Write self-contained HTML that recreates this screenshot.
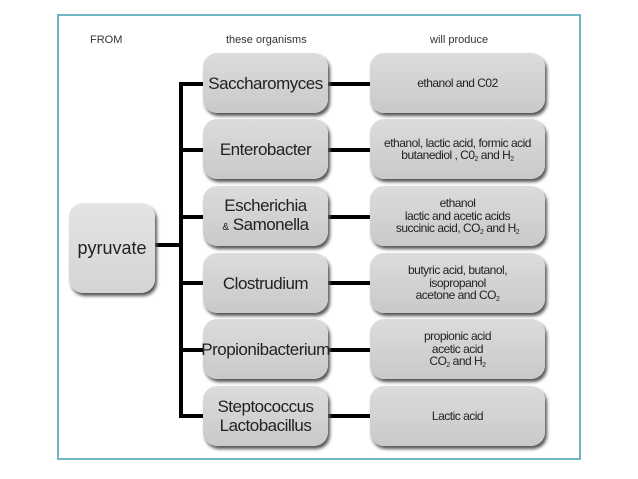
<!DOCTYPE html>
<html><head><style>
body{margin:0;width:638px;height:479px;background:#fff;position:relative;font-family:"Liberation Sans Narrow","Liberation Sans",sans-serif;overflow:hidden}
.frame{position:absolute;left:57px;top:14px;width:520px;height:442px;border:2px solid #72b6c6}
.b{position:absolute;background:linear-gradient(#dcdcdc,#c9c9c9);border-radius:14px;box-shadow:2px 3px 3px #555;display:flex;align-items:center;justify-content:center;text-align:center;color:#222}
.b>div{white-space:nowrap}
.o{left:203px;width:125px;height:60px;font-size:17px;line-height:19px;letter-spacing:-0.5px}
.p{left:370px;width:175px;height:60px;font-size:12px;line-height:12.5px;letter-spacing:-0.5px}
.h{position:absolute;font-size:11px;color:#333;top:34px}
.l{position:absolute;background:#000}
sub{font-size:7px;vertical-align:-2px;line-height:0}
</style></head><body>
<div class="frame"></div>
<div class="h" style="left:90px">FROM</div>
<div class="h" style="left:226px">these organisms</div>
<div class="h" style="left:430px">will produce</div>
<div class="l" style="left:179px;top:82px;width:4px;height:336px"></div>
<div class="l" style="left:155px;top:243px;width:26px;height:4px"></div>
<div class="b" style="left:69px;top:203px;width:86px;height:90px;font-size:18px;background:linear-gradient(#e4e4e4,#d4d4d4)"><div>pyruvate</div></div>

<div class="l" style="left:181px;top:82px;width:22px;height:4px"></div>
<div class="l" style="left:328px;top:82px;width:42px;height:4px"></div>
<div class="b o" style="top:53px"><div>Saccharomyces</div></div>
<div class="b p" style="top:53px"><div>ethanol and C02</div></div>

<div class="l" style="left:181px;top:148px;width:22px;height:4px"></div>
<div class="l" style="left:328px;top:148px;width:42px;height:4px"></div>
<div class="b o" style="top:119px"><div>Enterobacter</div></div>
<div class="b p" style="top:119px"><div>ethanol, lactic acid, formic acid<br>butanediol , C0<sub>2</sub> and H<sub>2</sub></div></div>

<div class="l" style="left:181px;top:215px;width:22px;height:4px"></div>
<div class="l" style="left:328px;top:215px;width:42px;height:4px"></div>
<div class="b o" style="top:186px"><div>Escherichia<br><span style="font-size:10px">&amp;</span> Samonella</div></div>
<div class="b p" style="top:186px"><div>ethanol<br>lactic and acetic acids<br>succinic acid, CO<sub>2</sub> and H<sub>2</sub></div></div>

<div class="l" style="left:181px;top:281px;width:22px;height:4px"></div>
<div class="l" style="left:328px;top:281px;width:42px;height:4px"></div>
<div class="b o" style="top:253px"><div>Clostrudium</div></div>
<div class="b p" style="top:253px"><div>butyric acid, butanol,<br>isopropanol<br>acetone and CO<sub>2</sub></div></div>

<div class="l" style="left:181px;top:348px;width:22px;height:4px"></div>
<div class="l" style="left:328px;top:348px;width:42px;height:4px"></div>
<div class="b o" style="top:319px"><div>Propionibacterium</div></div>
<div class="b p" style="top:319px"><div>propionic acid<br>acetic acid<br>CO<sub>2</sub> and H<sub>2</sub></div></div>

<div class="l" style="left:181px;top:414px;width:22px;height:4px"></div>
<div class="l" style="left:328px;top:414px;width:42px;height:4px"></div>
<div class="b o" style="top:386px"><div>Steptococcus<br>Lactobacillus</div></div>
<div class="b p" style="top:386px"><div>Lactic acid</div></div>
</body></html>
